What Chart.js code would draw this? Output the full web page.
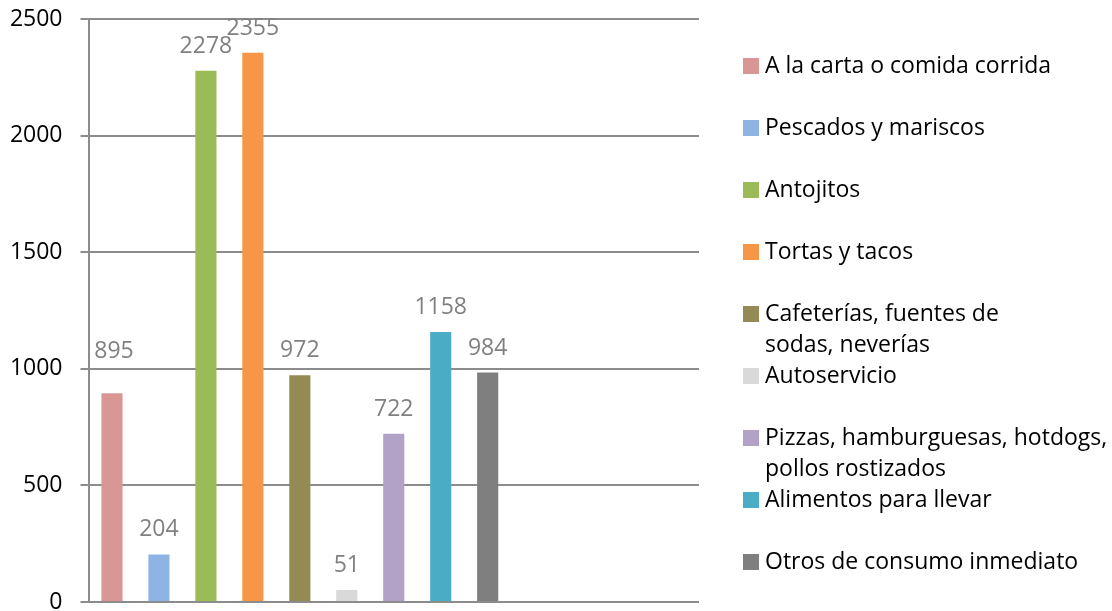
<!DOCTYPE html>
<html>
<head>
<meta charset="utf-8">
<script src="https://cdn.jsdelivr.net/npm/chart.js@4/dist/chart.umd.min.js"></script>
<style>
  html, body { margin: 0; padding: 0; background: #ffffff; }
  #wrap { width: 1112px; height: 611px; }
</style>
</head>
<body>
<div id="wrap"><canvas id="c" width="1112" height="611"></canvas></div>
<script>
// ---- data ----
const categories = [
  "A la carta o comida corrida",
  "Pescados y mariscos",
  "Antojitos",
  "Tortas y tacos",
  ["Cafeterías, fuentes de", "sodas, neverías"],
  "Autoservicio",
  ["Pizzas, hamburguesas, hotdogs,", "pollos rostizados"],
  "Alimentos para llevar",
  "Otros de consumo inmediato"
];
const values = [895, 204, 2278, 2355, 972, 51, 722, 1158, 984];
const colors = ["#D99694", "#8EB4E3", "#9BBB59", "#F79646", "#948A54", "#D9D9D9", "#B3A2C7", "#4BACC6", "#7F7F7F"];
const emptySlots = 4;               // unused category slots to the right
const yTicks = [0, 500, 1000, 1500, 2000, 2500];

// ---- build ----
const labels = categories.concat(Array(emptySlots).fill(""));
const data = values.concat(Array(emptySlots).fill(null));
const FONT = "'Open Sans', 'Noto Sans', sans-serif";
const FSIZE = 23;

const valueLabels = {
  id: "valueLabels",
  afterDatasetsDraw(chart, args, opts) {
    const ctx = chart.ctx;
    const meta = chart.getDatasetMeta(0);
    ctx.save();
    ctx.font = FSIZE + "px " + FONT;
    ctx.fillStyle = "#808080";
    ctx.textAlign = "center";
    ctx.textBaseline = "alphabetic";
    meta.data.forEach((bar, i) => {
      if (values[i] == null) return;
      const n = (opts.nudge && opts.nudge[i]) || {dx: 0, dy: 0};
      ctx.fillText(String(values[i]), bar.x + n.dx, bar.y - 18 + n.dy);
    });
    ctx.restore();
  }
};

const sideLegend = {
  id: "sideLegend",
  afterDraw(chart) {
    const ctx = chart.ctx;
    const area = chart.chartArea;
    const boxX = area.right + 44;
    const textX = boxX + 22;
    const lineStep = 31;
    ctx.save();
    ctx.font = FSIZE + "px " + FONT;
    ctx.textAlign = "left";
    ctx.textBaseline = "middle";
    categories.forEach((cat, i) => {
      const yc = area.top + 47 + i * 2 * lineStep;
      ctx.fillStyle = colors[i];
      ctx.fillRect(boxX, yc - 8, 16, 16);
      ctx.fillStyle = "#000000";
      const lines = Array.isArray(cat) ? cat : [cat];
      lines.forEach((ln, j) => ctx.fillText(ln, textX, yc + j * lineStep));
    });
    ctx.restore();
  }
};

new Chart(document.getElementById("c"), {
  type: "bar",
  data: {
    labels: labels,
    datasets: [{
      data: data,
      backgroundColor: colors,
      borderWidth: 0,
      barPercentage: 0.5,
      categoryPercentage: 0.9
    }]
  },
  options: {
    responsive: false,
    animation: false,
    devicePixelRatio: 1,
    layout: { padding: { left: 11, top: 19, right: 413, bottom: 9 } },
    plugins: {
      legend: { display: false },
      tooltip: { enabled: false },
      valueLabels: { nudge: { 0: {dx: 2, dy: -17} } }
    },
    scales: {
      x: {
        type: "category", display: false, offset: true,
        ticks: { display: false },
        afterFit: s => { s.paddingLeft = 0; s.paddingRight = 0; s.paddingTop = 0; s.paddingBottom = 0; }
      },
      y: {
        min: 0, max: 2500,
        afterBuildTicks: s => { s.ticks = yTicks.map(v => ({ value: v })); },
        afterFit: s => { s.paddingTop = 0; s.paddingBottom = 0; s.width = 77.5; },
        ticks: {
          color: "#000000",
          padding: 18,
          callback: v => String(v),
          font: { family: FONT, size: FSIZE, lineHeight: 0.8 }
        },
        grid: { color: "#8c8c8c", lineWidth: 2, tickLength: 8, drawTicks: true },
        border: { display: true, color: "#8c8c8c", width: 2 }
      }
    }
  },
  plugins: [valueLabels, sideLegend]
});
</script>
</body>
</html>
